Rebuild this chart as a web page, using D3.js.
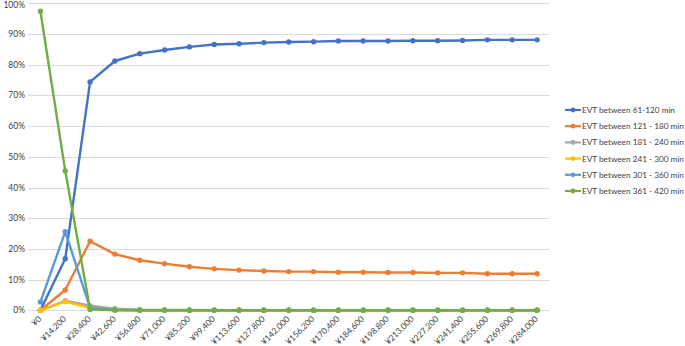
<!DOCTYPE html>
<html><head><meta charset="utf-8">
<script src="https://cdn.jsdelivr.net/npm/d3@7"></script>
<style>body{margin:0;background:#fff}svg{display:block}</style>
</head><body>
<svg id="c" width="685" height="346"></svg>
<script>
const categories = ["¥0","¥14,200","¥28,400","¥42,600","¥56,800","¥71,000","¥85,200","¥99,400","¥113,600","¥127,800","¥142,000","¥156,200","¥170,400","¥184,600","¥198,800","¥213,000","¥227,200","¥241,400","¥255,600","¥269,800","¥284,000"];
const seriesNames = ["EVT between 61-120 min","EVT between 121 - 180 min","EVT between 181 - 240 min","EVT between 241 - 300 min","EVT between 301 - 360 min","EVT between 361 - 420 min"];
const s61_120  = [0,16.8,74.4,81.2,83.6,84.8,85.8,86.6,86.8,87.2,87.4,87.5,87.7,87.7,87.7,87.8,87.8,87.9,88.1,88.1,88.1];
const s121_180 = [0,6.6,22.5,18.3,16.3,15.2,14.2,13.5,13.1,12.8,12.6,12.6,12.4,12.4,12.3,12.3,12.2,12.2,11.9,11.9,11.9];
const s181_240 = [0,3.1,1.5,0.5,0.2,0.1,0.1,0,0,0,0,0,0,0,0,0,0,0,0,0,0];
const s241_300 = [0,2.8,0.8,0.2,0,0,0,0,0,0,0,0,0,0,0,0,0,0,0,0,0];
const s301_360 = [2.7,25.6,0.8,0.2,0,0,0,0,0,0,0,0,0,0,0,0,0,0,0,0,0];
const s361_420 = [97.4,45.4,0.3,0,0,0,0,0,0,0,0,0,0,0,0,0,0,0,0,0,0];
const yTicks = [0,10,20,30,40,50,60,70,80,90,100];
const colors = ["#4472C4","#ED7D31","#A5A5A5","#FFC000","#5B9BD5","#70AD47"];

const series = [s61_120,s121_180,s181_240,s241_300,s301_360,s361_420];
const svg = d3.select("#c");
const font = "Lato, 'Liberation Sans', sans-serif";
const x = d3.scaleBand().domain(categories).range([28,549.5]);
const y = d3.scaleLinear().domain([0,100]).range([310.3,3.3]);

// gridlines
svg.append("g").selectAll("line").data(yTicks).join("line")
  .attr("x1",28).attr("x2",549.5)
  .attr("y1",d=>Math.round(y(d))+0.5).attr("y2",d=>Math.round(y(d))+0.5)
  .attr("stroke","#d9d9d9").attr("stroke-width",1);

// y labels
svg.append("g").selectAll("text").data(yTicks).join("text")
  .attr("x",25).attr("y",d=>Math.max(y(d)+3,8))
  .attr("text-anchor","end").attr("font-family",font).attr("font-size","8.5px")
  .attr("fill","#404040").text(d=>d+"%");

// x labels
svg.append("g").selectAll("text").data(categories).join("text")
  .attr("transform",d=>`translate(${x(d)+x.bandwidth()/2+1.5},${319.5}) rotate(-45)`)
  .attr("text-anchor","end").attr("font-family",font).attr("font-size","8.5px")
  .attr("fill","#404040").text(d=>d);

const line = d3.line().x((d,i)=>x(categories[i])+x.bandwidth()/2).y(d=>y(d));
series.forEach((s,k)=>{
  const g = svg.append("g");
  g.append("path").datum(s).attr("d",line).attr("fill","none")
    .attr("stroke",colors[k]).attr("stroke-width",2.4).attr("stroke-linejoin","round");
  g.selectAll("circle").data(s).join("circle")
    .attr("cx",(d,i)=>x(categories[i])+x.bandwidth()/2).attr("cy",d=>y(d))
    .attr("r",2.7).attr("fill",colors[k]);
});

// legend
const lg = svg.append("g");
const texts = [];
seriesNames.forEach((n,k)=>{
  const yy = 110 + k*16.2;
  lg.append("line").attr("x1",565).attr("x2",581).attr("y1",yy).attr("y2",yy)
    .attr("stroke",colors[k]).attr("stroke-width",2.2);
  lg.append("circle").attr("cx",573).attr("cy",yy).attr("r",2.4).attr("fill",colors[k]);
  texts.push(lg.append("text").attr("x",582).attr("y",yy+3).attr("font-family",font)
    .attr("font-size","9px").attr("fill","#404040").text(n));
});
// fit legend text into available width
const maxW = d3.max(texts, t=>t.node().getComputedTextLength());
if (maxW > 102) texts.forEach(t=>t.attr("font-size", (9*102/maxW).toFixed(2)+"px"));
</script>
</body></html>
